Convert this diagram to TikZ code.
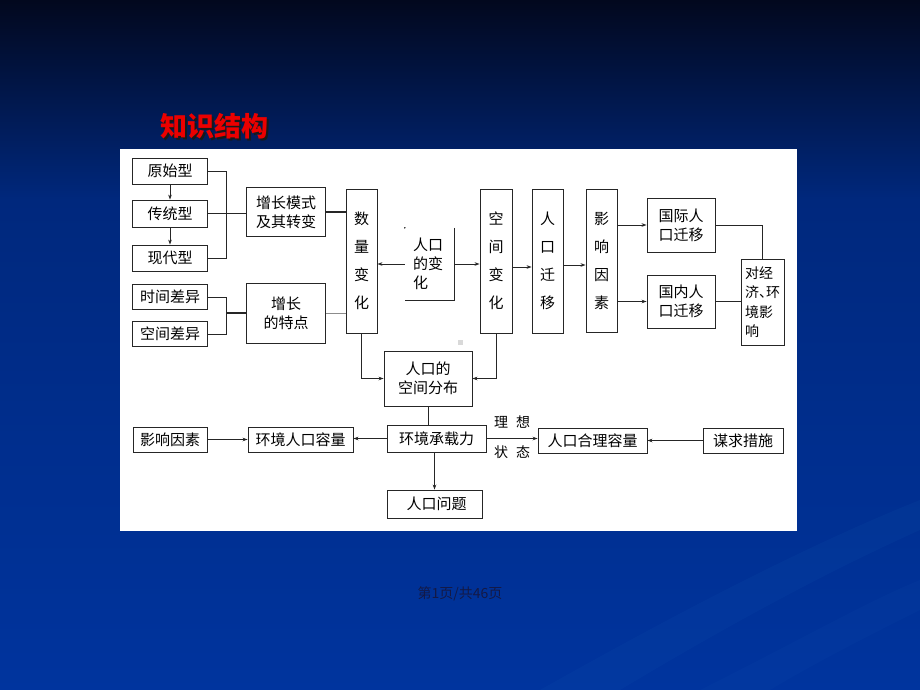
\documentclass[tikz,border=0pt]{standalone}
\usepackage{fontspec}
\setmainfont{Noto Sans CJK SC}
\usetikzlibrary{arrows.meta}
\definecolor{bgtop}{RGB}{2,8,30}
\definecolor{bgmid}{RGB}{0,40,125}
\definecolor{bgbot}{RGB}{0,52,158}
\definecolor{ttl}{RGB}{235,0,0}
\definecolor{foot}{RGB}{20,25,70}
\tikzset{
  box/.style={draw=black!85, line width=0.9pt, fill=white, inner sep=0pt, align=center,
    font=\fontsize{15}{19}\selectfont},
  vbox/.style={box, font=\fontsize{15}{28}\selectfont},
  ln/.style={draw=black!85, line width=0.9pt},
  arr/.style={ln, -{Stealth[length=5pt,width=3.6pt]}},
}
\begin{document}
\begin{tikzpicture}[x=1pt,y=-1pt]
\useasboundingbox (0,0) rectangle (920,690);
% background
\shade[top color=bgtop, bottom color=bgmid] (0,0) rectangle (920,200);
\shade[top color=bgmid, bottom color=bgbot] (0,200) rectangle (920,690);
\fill[cyan!40!blue, opacity=0.10] (540,690) .. controls (700,600) and (820,540) .. (920,500) -- (920,530) .. controls (820,575) and (720,630) .. (620,690) -- cycle;
\fill[cyan!40!blue, opacity=0.08] (700,690) .. controls (800,640) and (870,600) .. (920,580) -- (920,610) .. controls (880,630) and (820,660) .. (770,690) -- cycle;
% white panel
\fill[white] (120,149) rectangle (797,531);
% title with shadow
\node[text=ttl, font=\fontsize{27}{30}\selectfont\bfseries] (title) at (214,127)
  {\rlap{\kern2pt\raisebox{-2pt}{\color{black!90}知识结构}}知识结构};
% footer
\node[text=foot, font=\fontsize{14}{16}\selectfont] (foot) at (460,594) {第1页/共46页};

% left column
\node[box, minimum width=75, minimum height=26] (ys) at (170,171) {原始型};
\node[box, minimum width=75, minimum height=27] (ct) at (170,213.5) {传统型};
\node[box, minimum width=75, minimum height=26] (xd) at (170,258) {现代型};
\node[box, minimum width=75, minimum height=25] (sj) at (170,297) {时间差异};
\node[box, minimum width=75, minimum height=25] (kj) at (170,334) {空间差异};
\node[box, minimum width=79, minimum height=49] (zm) at (286,212) {增长模式\\及其转变};
\node[box, minimum width=79, minimum height=60] (zt) at (286,313) {增长\\的特点};
\coordinate (bx) at (226,0);

% vertical boxes
\node[vbox, minimum width=31, minimum height=144] (slbh) at (361.5,261) {数\\量\\变\\化};
\node[vbox, minimum width=32, minimum height=144] (kjbh) at (496,261) {空\\间\\变\\化};
\node[vbox, minimum width=31, minimum height=144] (rkqy) at (547.5,261) {人\\口\\迁\\移};
\node[vbox, minimum width=31, minimum height=143] (yxys) at (601.5,260.5) {影\\响\\因\\素};

% 人口的变化 (open box)
\node[inner xsep=8pt, inner ysep=0pt, text width=33pt, minimum height=72, align=left,
  font=\fontsize{15}{19}\selectfont] (rkbh) at (429.5,264) {人口\\的变\\化};
\draw[ln] (rkbh.north east) -- (rkbh.south east) -- (rkbh.south west);
\fill (rkbh.north west) circle (0.8);

% right
\node[box, minimum width=68, minimum height=54] (gj) at (681,225) {国际人\\口迁移};
\node[box, minimum width=68, minimum height=53] (gn) at (681,301.5) {国内人\\口迁移};
\node[box, minimum width=43, minimum height=86, align=left, inner xsep=3pt,
  font=\fontsize{14}{19.5}\selectfont] (dj) at (762.5,302) {对经\\济、\kern-7pt环\\境影\\响};

% middle
\node[box, minimum width=88, minimum height=55] (rkfb) at (428,378.5) {人口的\\空间分布};
\fill[black!15] (457.5,339.5) rectangle (462.5,344.5);

% bottom row
\node[box, minimum width=74, minimum height=25] (yx2) at (170,439.5) {影响因素};
\node[box, minimum width=105, minimum height=25] (hjrk) at (300.5,439.5) {环境人口容量};
\node[box, minimum width=99, minimum height=27] (hjcz) at (436.5,438.5) {环境承载力};
\node[box, minimum width=95, minimum height=28] (rkwt) at (434.5,504) {\hspace{4pt}人口问题};
\node[box, minimum width=109, minimum height=25] (rkhl) at (592.5,440.5) {人口合理容量};
\node[box, minimum width=80, minimum height=25] (mq) at (743,440.5) {谋求措施};
\node[font=\fontsize{14}{16}\selectfont] (lx) at (512,422) {理\hspace{8pt}想};
\node[font=\fontsize{14}{16}\selectfont] (zt2) at (512,452) {状\hspace{8pt}态};

% connectors: left
\draw[arr, line width=0.6pt] (ys.south) -- (ct.north);
\draw[arr, line width=0.6pt] (ct.south) -- (xd.north);
\draw[ln, line width=0.7pt] (ys.east) -- (ys.east -| bx) -- (xd.east -| bx) -- (xd.east);
\draw[ln, line width=1.4pt] (ct.east) -- (ct.east -| zm.west);
\draw[ln, line width=1.2pt] (zm.east) -- (zm.east -| slbh.west);
\draw[ln, line width=0.7pt] (sj.east) -- (sj.east -| bx) -- (kj.east -| bx) -- (kj.east);
\draw[ln, line width=1.2pt] (bx |- zt.west) -- (zt.west);
\draw[ln, draw=black!45, line width=1pt] (zt.east) -- (zt.east -| slbh.west);

% connectors: top chain
\draw[arr] (rkbh.west) -- (slbh.east |- rkbh.west);
\draw[arr] (rkbh.east) -- (kjbh.west |- rkbh.east);
\draw[arr, line width=0.7pt] (kjbh.east) ++(0,6) -- (rkqy.west |- 0,267);
\draw[arr] (rkqy.east) ++(0,4) -- (yxys.west |- 0,265);
\draw[arr] (yxys.east |- gj.west) -- (gj.west);
\draw[arr, line width=0.7pt] (yxys.east |- gn.west) -- (gn.west);
\draw[ln, line width=0.7pt] (gj.east) -- (dj.north |- gj.east) -- (dj.north);
\draw[ln, line width=1.2pt] (gn.east) -- (gn.east -| dj.west);

% to spatial distribution
\draw[arr] (slbh.south) |- (rkfb.west);
\draw[arr] (kjbh.south) |- (rkfb.east);
\draw[ln] (rkfb.south) -- (rkfb.south |- hjcz.north);

% bottom row
\draw[arr] (yx2.east) -- (hjrk.west);
\draw[arr] (hjcz.west) -- (hjcz.west -| hjrk.east);
\draw[arr] (rkwt.north |- hjcz.south) -- (rkwt.north);
\draw[arr] (hjcz.east) -- (hjcz.east -| rkhl.west);
\draw[arr] (mq.west) -- (rkhl.east);
\end{tikzpicture}
\end{document}
